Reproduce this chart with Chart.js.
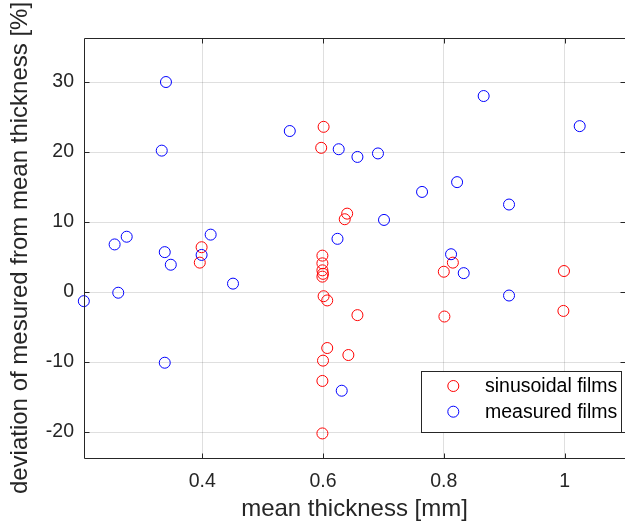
<!DOCTYPE html>
<html>
<head>
<meta charset="utf-8">
<script src="https://cdn.jsdelivr.net/npm/chart.js@4/dist/chart.umd.min.js"></script>
<style>
html, body { margin: 0; padding: 0; background: #ffffff; }
#c { display: block; }
</style>
</head>
<body>
<canvas id="c" width="625" height="524"></canvas>
<script>
// ---- data ----
const seriesNames = ['sinusoidal films', 'measured films'];

const sinusoidalX = [0.601, 0.597, 0.640, 0.636, 0.399, 0.396, 0.599, 0.599, 0.599, 0.600, 0.599, 0.601, 0.607, 0.607, 0.600, 0.599, 0.599, 0.642, 0.657, 0.800, 0.815, 0.801, 0.999, 0.998];
const sinusoidalY = [23.6, 20.6, 11.2, 10.4, 6.4, 4.2, 5.2, 4.1, 3.1, 2.6, 2.2, -0.6, -1.2, -8.0, -9.8, -12.7, -20.2, -9.0, -3.3, 2.9, 4.2, -3.5, 3.0, -2.7];

const measuredX = [0.340, 0.333, 0.545, 0.626, 0.255, 0.275, 0.414, 0.624, 0.657, 0.691, 0.764, 0.822, 0.866, 0.908, 1.025, 0.701, 0.338, 0.348, 0.399, 0.451, 0.204, 0.261, 0.338, 0.631, 0.812, 0.833, 0.908];
const measuredY = [30.0, 20.2, 23.0, 20.4, 6.8, 7.9, 8.2, 7.6, 19.3, 19.8, 14.3, 15.7, 28.0, 12.5, 23.7, 10.3, 5.7, 3.9, 5.3, 1.2, -1.3, -0.1, -10.1, -14.1, 5.4, 2.7, -0.5];

const xTicks = [0.4, 0.6, 0.8, 1];
const yTicks = [-20, -10, 0, 10, 20, 30];
const xLimits = [0.2043, 1.1];
const yLimits = [-23.71, 36.29];

const xTitle = 'mean thickness [mm]';
const yTitle = 'deviation of mesured from mean thickness [%]';

// ---- styling ----
const FONT = '"Liberation Sans", Arial, Helvetica, sans-serif';
const AX = '#262626';
const GRID = 'rgba(38,38,38,0.15)';

function pts(xs, ys) { return xs.map((x, i) => ({ x: x, y: ys[i] })); }

const boxPlugin = {
  id: 'matlabBox',
  afterDraw(chart) {
    const ctx = chart.ctx;
    const a = chart.chartArea;
    const xs = chart.scales.x, ys = chart.scales.y;
    const L = Math.round(a.left) + 0.5, R = Math.round(a.right) + 0.5;
    const T = Math.round(a.top) + 0.5, B = Math.round(a.bottom) + 0.5;
    ctx.save();
    ctx.strokeStyle = AX;
    ctx.lineWidth = 1;
    ctx.beginPath();
    ctx.rect(L, T, R - L, B - T);
    // inward ticks
    const tl = 5;
    xs.ticks.forEach(t => {
      const p = Math.round(xs.getPixelForValue(t.value)) + 0.5;
      ctx.moveTo(p, B); ctx.lineTo(p, B - tl);
      ctx.moveTo(p, T); ctx.lineTo(p, T + tl);
    });
    ys.ticks.forEach(t => {
      const p = Math.round(ys.getPixelForValue(t.value)) + 0.5;
      ctx.moveTo(L, p); ctx.lineTo(L + tl, p);
      ctx.moveTo(R, p); ctx.lineTo(R - tl, p);
    });
    ctx.stroke();

    // legend inside the axes (south-east)
    const lx = 421.5, ly = 371.5, lw = 200, lh = 61;
    ctx.fillStyle = '#ffffff';
    ctx.fillRect(lx, ly, lw, lh);
    ctx.strokeStyle = AX;
    ctx.strokeRect(lx, ly, lw, lh);
    ctx.font = '19.5px ' + FONT;
    ctx.textBaseline = 'middle';
    ctx.textAlign = 'left';
    chart.data.datasets.forEach((ds, i) => {
      const cy = 386 + i * 25.7;
      ctx.beginPath();
      ctx.strokeStyle = ds.borderColor;
      ctx.lineWidth = 1;
      ctx.arc(453.3, cy, 5.5, 0, Math.PI * 2);
      ctx.stroke();
      ctx.fillStyle = '#000000';
      ctx.fillText(ds.label, 485, cy + 1);
    });
    ctx.restore();
  }
};

new Chart(document.getElementById('c'), {
  type: 'scatter',
  data: {
    datasets: [
      {
        label: seriesNames[0],
        data: pts(sinusoidalX, sinusoidalY),
        borderColor: 'rgb(255,0,0)',
        backgroundColor: 'rgba(0,0,0,0)',
        pointRadius: 5.5,
        pointHoverRadius: 5.5,
        borderWidth: 1,
        pointBorderWidth: 1,
        clip: false,
        order: 1
      },
      {
        label: seriesNames[1],
        data: pts(measuredX, measuredY),
        borderColor: 'rgb(0,0,255)',
        backgroundColor: 'rgba(0,0,0,0)',
        pointRadius: 5.5,
        pointHoverRadius: 5.5,
        borderWidth: 1,
        pointBorderWidth: 1,
        clip: false,
        order: 0
      }
    ]
  },
  options: {
    responsive: false,
    animation: false,
    devicePixelRatio: 1,
    layout: { autoPadding: false, padding: { top: 38, right: 0, left: 0, bottom: 0 } },
    plugins: { legend: { display: false }, tooltip: { enabled: false } },
    scales: {
      x: {
        type: 'linear',
        min: xLimits[0],
        max: xLimits[1],
        afterBuildTicks(scale) { scale.ticks = xTicks.map(v => ({ value: v })); },
        afterFit(scale) {
          scale.height = 66;
          scale.paddingLeft = 0; scale.paddingRight = 0;
          scale.paddingTop = 0; scale.paddingBottom = 0;
        },
        ticks: {
          autoSkip: false,
          maxRotation: 0,
          padding: 12,
          color: AX,
          font: { family: FONT, size: 19.5 },
          callback: (v) => String(v)
        },
        grid: { color: GRID, lineWidth: 1, drawTicks: false },
        border: { display: false },
        title: {
          display: true,
          text: xTitle,
          color: AX,
          font: { family: FONT, size: 24 },
          padding: { top: 0, bottom: 0 }
        }
      },
      y: {
        type: 'linear',
        min: yLimits[0],
        max: yLimits[1],
        afterBuildTicks(scale) { scale.ticks = yTicks.map(v => ({ value: v })); },
        afterFit(scale) {
          scale.width = 84;
          scale.paddingLeft = 0; scale.paddingRight = 0;
          scale.paddingTop = 0; scale.paddingBottom = 0;
        },
        ticks: {
          autoSkip: false,
          padding: 10,
          color: AX,
          font: { family: FONT, size: 19.5 },
          callback: (v) => String(v)
        },
        grid: { color: GRID, lineWidth: 1, drawTicks: false },
        border: { display: false },
        title: {
          display: true,
          text: yTitle,
          color: AX,
          font: { family: FONT, size: 24 },
          padding: { top: 6, bottom: 0 }
        }
      }
    }
  },
  plugins: [boxPlugin]
});
</script>
</body>
</html>
